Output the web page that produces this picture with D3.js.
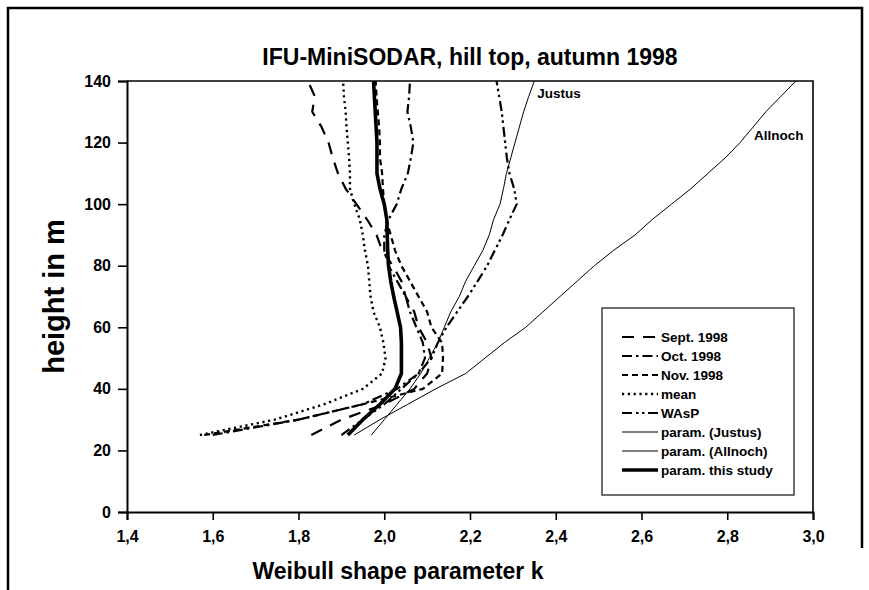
<!DOCTYPE html>
<html>
<head>
<meta charset="utf-8">
<script src="https://cdn.jsdelivr.net/npm/d3@7"></script>
<style>
  body { margin: 0; background: #fff; }
  svg { font-family: "Liberation Sans", Arial, sans-serif; font-weight: bold; }
</style>
</head>
<body>
<svg id="chart" width="869" height="590"></svg>
<script>
// Measurement heights (m)
const heights = [25, 30, 35, 40, 45, 50, 55, 60, 65, 70, 75, 80, 85, 90, 95, 100, 105, 110, 115, 120, 125, 130, 135, 140];

// Weibull k per height, one array per series
const kSept = [1.83, 1.90, 2.00, 2.07, 2.10, 2.11, 2.10, 2.08, 2.07, 2.05, 2.04, 2.02, 1.995, 1.982, 1.96, 1.935, 1.91, 1.892, 1.88, 1.87, 1.854, 1.832, 1.838, 1.822];
const kOct = [1.60, 1.80, 1.95, 2.03, 2.08, 2.095, 2.09, 2.075, 2.06, 2.05, 2.03, 2.01, 2.0, 2.0, 2.01, 2.029, 2.04, 2.055, 2.062, 2.068, 2.062, 2.054, 2.058, 2.06];
const kNov = [1.58, 1.80, 1.95, 2.09, 2.135, 2.137, 2.135, 2.11, 2.10, 2.08, 2.06, 2.04, 2.025, 2.015, 2.005, 2.0, 1.997, 1.995, 1.99, 1.99, 1.988, 1.985, 1.982, 1.98];
const kMean = [1.57, 1.745, 1.86, 1.95, 1.995, 2.003, 1.998, 1.99, 1.975, 1.968, 1.965, 1.962, 1.955, 1.95, 1.943, 1.93, 1.92, 1.92, 1.918, 1.915, 1.912, 1.91, 1.906, 1.904];
const kWasp = [1.90, 1.95, 2.0, 2.04, 2.08, 2.11, 2.125, 2.145, 2.17, 2.195, 2.218, 2.24, 2.258, 2.276, 2.292, 2.309, 2.303, 2.292, 2.286, 2.282, 2.278, 2.274, 2.268, 2.262];
const kJustus = [1.97, 2.00, 2.03, 2.06, 2.085, 2.105, 2.125, 2.14, 2.155, 2.175, 2.19, 2.21, 2.23, 2.245, 2.255, 2.27, 2.278, 2.285, 2.295, 2.305, 2.315, 2.325, 2.337, 2.35];
const kAllnoch = [1.93, 1.99, 2.055, 2.12, 2.19, 2.235, 2.28, 2.33, 2.37, 2.41, 2.45, 2.49, 2.535, 2.585, 2.625, 2.67, 2.715, 2.755, 2.795, 2.83, 2.86, 2.89, 2.925, 2.96];
const kStudy = [1.915, 1.95, 1.99, 2.025, 2.04, 2.04, 2.04, 2.038, 2.03, 2.022, 2.015, 2.01, 2.008, 2.007, 2.006, 2.0, 1.99, 1.983, 1.983, 1.983, 1.981, 1.979, 1.977, 1.975];

const seriesNames = ['Sept. 1998', 'Oct. 1998', 'Nov. 1998', 'mean', 'WAsP', 'param. (Justus)', 'param. (Allnoch)', 'param. this study'];
const xTicks = [1.4, 1.6, 1.8, 2.0, 2.2, 2.4, 2.6, 2.8, 3.0];
const yTicks = [0, 20, 40, 60, 80, 100, 120, 140];

const title = 'IFU-MiniSODAR, hill top, autumn 1998';
const xTitle = 'Weibull shape parameter k';
const yTitle = 'height in m';

// line styles, in legend order
const STYLES = [
  { width: 2.2, dash: '12,9' },
  { width: 2.2, dash: '10,4,2.5,4' },
  { width: 2.2, dash: '6,4' },
  { width: 2.4, dash: '2.2,3.6' },
  { width: 2.2, dash: '10,4,2.5,3.5,2.5,3.5' },
  { width: 1, dash: null },
  { width: 1, dash: null },
  { width: 3.6, dash: null },
];

const margin = { top: 81, right: 56, bottom: 78, left: 127 };
const W = 869, H = 590;
const iw = W - margin.left - margin.right;
const ih = H - margin.top - margin.bottom;

const svg = d3.select('#chart');

// outer frame (right side stops short of the bottom edge)
svg.append('path')
  .attr('d', 'M8,590V8H862V548')
  .attr('fill', 'none')
  .attr('stroke', '#000')
  .attr('stroke-width', 2.5);

const x = d3.scaleLinear().domain([1.4, 3.0]).range([0, iw]);
const y = d3.scaleLinear().domain([0, 140]).range([ih, 0]);

const g = svg.append('g').attr('transform', `translate(${margin.left},${margin.top})`);

// plot frame (top/right)
g.append('path')
  .attr('d', `M0,0H${iw}V${ih}`)
  .attr('fill', 'none')
  .attr('stroke', '#000')
  .attr('stroke-width', 1.6);

const fmt = (d) => d3.format('.1f')(d).replace('.', ',');

const styleTicks = (sel) => sel.selectAll('text')
  .style('font-size', '16px')
  .style('font-weight', 'bold')
  .style('font-family', '"Liberation Sans", Arial, sans-serif');

// x axis: major + minor ticks
const xAxis = g.append('g').attr('transform', `translate(0,${ih})`);
xAxis.call(d3.axisBottom(x).tickValues(d3.range(1.5, 3.0, 0.2)).tickSize(5).tickFormat(''));
xAxis.call(d3.axisBottom(x).tickValues(xTicks).tickSize(8).tickFormat(fmt));
xAxis.selectAll('.domain').attr('stroke-width', 2);
xAxis.selectAll('line').attr('stroke-width', 1.6);
styleTicks(xAxis).attr('dy', '1.2em');

const yAxis = g.append('g');
yAxis.call(d3.axisLeft(y).tickValues(d3.range(10, 140, 20)).tickSize(5).tickFormat(''));
yAxis.call(d3.axisLeft(y).tickValues(yTicks).tickSize(9).tickFormat(d3.format('d')));
yAxis.selectAll('.domain').attr('stroke-width', 2);
yAxis.selectAll('line').attr('stroke-width', 1.6);
styleTicks(yAxis).attr('dx', '-0.25em');

// series lines
const allK = [kSept, kOct, kNov, kMean, kWasp, kJustus, kAllnoch, kStudy];
const line = d3.line()
  .x((d) => x(d[0]))
  .y((d) => y(d[1]));

g.selectAll('.series')
  .data(allK)
  .join('path')
    .attr('class', 'series')
    .attr('fill', 'none')
    .attr('stroke', '#000')
    .attr('stroke-linejoin', 'round')
    .attr('stroke-width', (d, i) => STYLES[i].width)
    .attr('stroke-dasharray', (d, i) => STYLES[i].dash)
    .attr('d', (ks) => line(ks.map((k, j) => [k, heights[j]])));

// curve labels
g.append('text')
  .attr('x', x(2.35) + 3).attr('y', y(140) + 17)
  .style('font-size', '13.5px')
  .text('Justus');
g.append('text')
  .attr('x', x(2.86) + 1).attr('y', y(122) + 4)
  .style('font-size', '13.5px')
  .text('Allnoch');

// legend
const leg = svg.append('g').attr('transform', 'translate(602,308)');
leg.append('rect')
  .attr('width', 192).attr('height', 187)
  .attr('fill', '#fff')
  .attr('stroke', '#333')
  .attr('stroke-width', 1.4);

const items = leg.selectAll('.item')
  .data(seriesNames)
  .join('g')
    .attr('class', 'item')
    .attr('transform', (d, i) => `translate(0,${29 + i * 19})`);

items.append('line')
  .attr('x1', 20).attr('x2', 56)
  .attr('stroke', '#000')
  .attr('stroke-width', (d, i) => STYLES[i].width)
  .attr('stroke-dasharray', (d, i) => STYLES[i].dash);

items.append('text')
  .attr('x', 59).attr('dy', '0.35em')
  .style('font-size', '13.5px')
  .text((d) => d);

// titles
svg.append('text')
  .attr('x', 470).attr('y', 65)
  .attr('text-anchor', 'middle')
  .style('font-size', '23px')
  .text(title);

svg.append('text')
  .attr('x', 398).attr('y', 579)
  .attr('text-anchor', 'middle')
  .style('font-size', '23px')
  .text(xTitle);

svg.append('text')
  .attr('transform', `translate(64,${margin.top + ih / 2}) rotate(-90)`)
  .attr('text-anchor', 'middle')
  .style('font-size', '29px')
  .text(yTitle);
</script>
</body>
</html>
